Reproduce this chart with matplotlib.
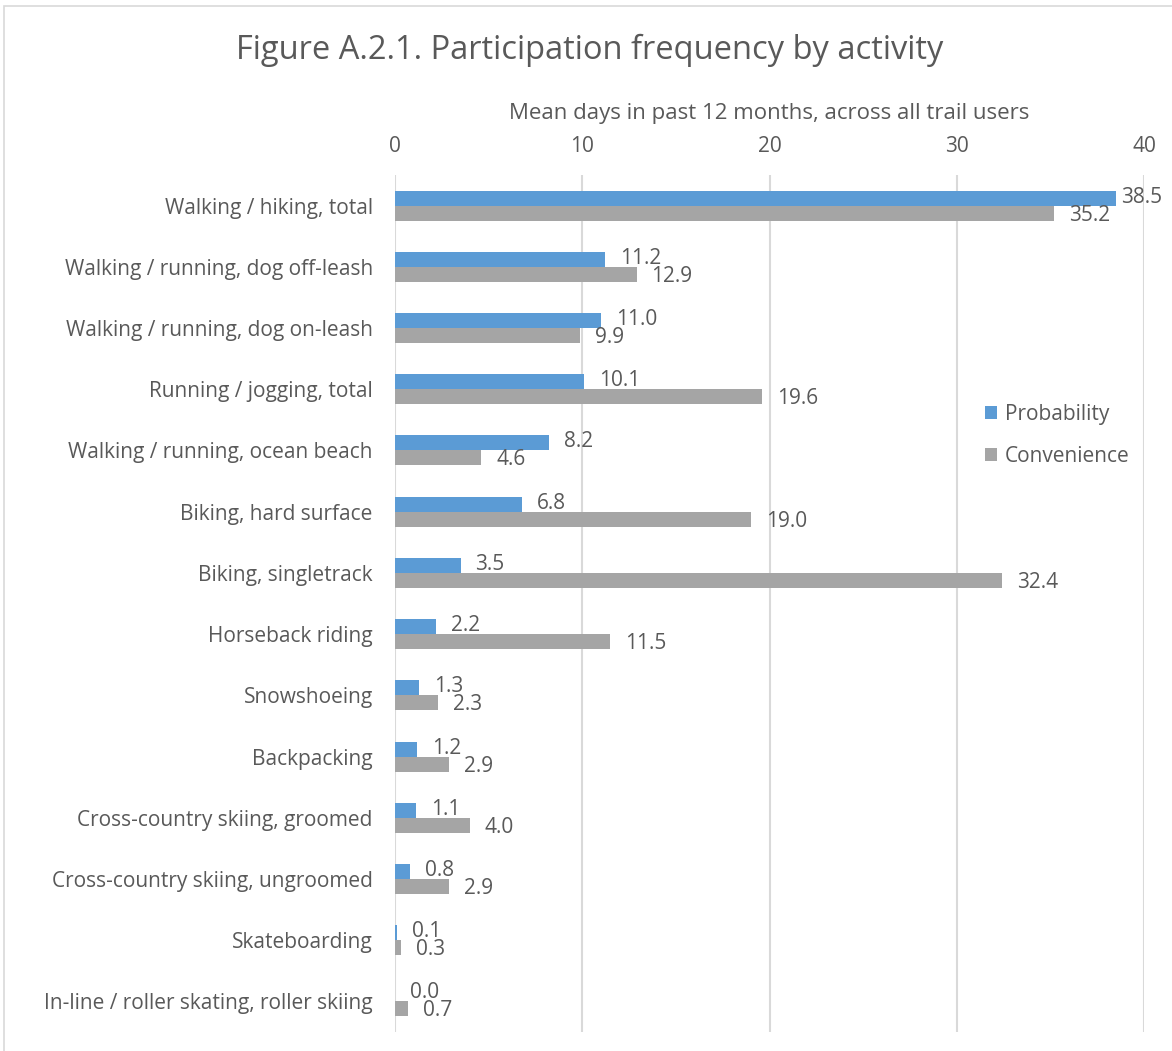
import matplotlib
matplotlib.use("Agg")
import matplotlib.pyplot as plt
from matplotlib.patches import Rectangle
import numpy as np

plt.rcParams['font.family'] = ['Open Sans', 'DejaVu Sans']

activities = [
    "Walking / hiking, total",
    "Walking / running, dog off-leash",
    "Walking / running, dog on-leash",
    "Running / jogging, total",
    "Walking / running, ocean beach",
    "Biking, hard surface",
    "Biking, singletrack",
    "Horseback riding",
    "Snowshoeing",
    "Backpacking",
    "Cross-country skiing, groomed",
    "Cross-country skiing, ungroomed",
    "Skateboarding",
    "In-line / roller skating, roller skiing",
]
probability = [38.5, 11.2, 11.0, 10.1, 8.2, 6.8, 3.5, 2.2, 1.3, 1.2, 1.1, 0.8, 0.1, 0.0]
convenience = [35.2, 12.9, 9.9, 19.6, 4.6, 19.0, 32.4, 11.5, 2.3, 2.9, 4.0, 2.9, 0.3, 0.7]
x_ticks = [0, 10, 20, 30, 40]

BLUE = "#5b9bd5"
GRAY = "#a5a5a5"
TEXT = "#595959"
GRID = "#d9d9d9"
FS = 15

fig = plt.figure(figsize=(11.72, 10.51), dpi=100)
W, H = 1172, 1051

# outer chart frame
fig.patches.append(Rectangle((4 / W, -0.1), 1.2, 1 - 6 / H + 0.1, transform=fig.transFigure,
                             fill=False, edgecolor=GRID, linewidth=1.2))

ax = fig.add_axes([395 / W, 1 - 1032 / H, (1144 - 395) / W, (1032 - 175) / H])

y = np.arange(len(activities))
bw = 0.245
ax.barh(y - bw / 2, probability, height=bw, color=BLUE, label="Probability", zorder=3)
ax.barh(y + bw / 2, convenience, height=bw, color=GRAY, label="Convenience", zorder=3)

ax.set_xlim(0, 40)
ax.set_ylim(len(activities) - 0.5, -0.5)
ax.set_yticks(y)
ax.set_yticklabels(activities, fontsize=FS, color=TEXT)
ax.set_xticks(x_ticks)
ax.set_xticklabels([str(t) for t in x_ticks], fontsize=FS, color=TEXT)
ax.xaxis.tick_top()
ax.tick_params(axis='x', length=0, pad=13)
ax.tick_params(axis='y', length=0, pad=16)
ax.xaxis.set_label_position('top')
ax.set_xlabel("Mean days in past 12 months, across all trail users", fontsize=FS + 1,
              color=TEXT, labelpad=12)
ax.grid(axis='x', color=GRID, linewidth=1.5, zorder=0)
for s in ax.spines.values():
    s.set_visible(False)

# value labels
for i, (p, c) in enumerate(zip(probability, convenience)):
    off_p = 5 if p > 37 else 15
    ax.annotate(f"{p:.1f}", (p, i - bw / 2), xytext=(off_p, 1), textcoords='offset pixels',
                ha='left', va='center', fontsize=FS, color=TEXT, zorder=4)
    ax.annotate(f"{c:.1f}", (c, i + bw / 2), xytext=(15, -2), textcoords='offset pixels',
                ha='left', va='center', fontsize=FS, color=TEXT, zorder=4)

fig.text(0.5 * (233 + 946) / W, 1 - 50 / H, "Figure A.2.1. Participation frequency by activity",
         ha='center', va='center', fontsize=23.5, color=TEXT)

leg = fig.legend(loc='upper left', bbox_to_anchor=(966 / W, 1 - 385 / H), frameon=False,
                 fontsize=FS, labelcolor=TEXT, handlelength=0.6, handleheight=0.6,
                 handletextpad=0.35, labelspacing=1.0)

fig.savefig("out.png", dpi=100, facecolor='white')
